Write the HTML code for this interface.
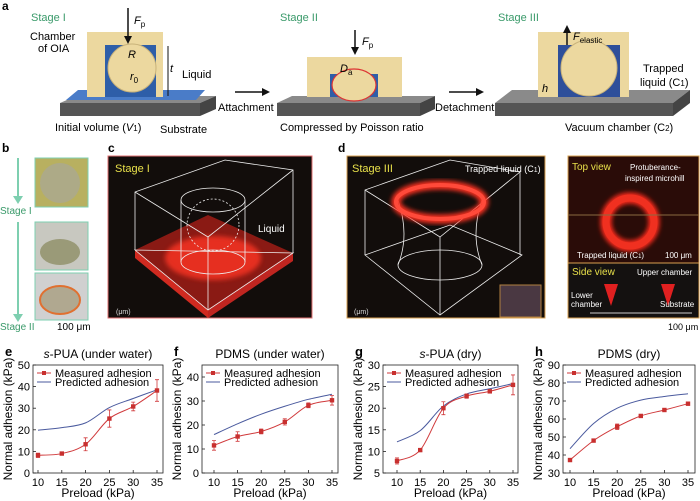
<!DOCTYPE html>
<html><head><meta charset="utf-8"><style>
body{margin:0;background:#fff;}
svg{display:block;font-family:"Liberation Sans",Arial,sans-serif;}
</style></head><body>
<svg id="fig" width="700" height="501" viewBox="0 0 700 501" xmlns="http://www.w3.org/2000/svg">
<defs>
<filter id="glow" x="-20%" y="-20%" width="140%" height="140%"><feGaussianBlur stdDeviation="2.5"/></filter>
</defs>
<g>
<text x="2" y="10" font-size="12" font-weight="bold">a</text>
<text x="31" y="21" font-size="11" fill="#3a9a6a">Stage I</text>
<text x="280" y="21" font-size="11" fill="#3a9a6a">Stage II</text>
<text x="498" y="21" font-size="11" fill="#3a9a6a">Stage III</text>
<g>
<polygon points="60,103 76,96 216,96 200,103" fill="#8a8a8a"/>
<rect x="60" y="103" width="140" height="13" fill="#555"/>
<polygon points="200,103 216,96 216,109 200,116" fill="#444"/>
<polygon points="66,100 78,90 205,90 196,100" fill="#4a7cc8"/>
<rect x="87" y="32" width="76" height="65" fill="#ecd89f"/>
<rect x="105" y="45" width="51" height="52" fill="#2e5ea8"/>
<circle cx="132" cy="68" r="24" fill="#ecd89f" stroke="#c8b27a"/>
<line x1="128" y1="8" x2="128" y2="40" stroke="#111" stroke-width="1.5"/>
<polygon points="124,36 132,36 128,44" fill="#111"/>
<text x="134" y="24" font-size="11" font-style="italic">F<tspan font-size="8" font-style="normal" dy="3">p</tspan></text>
<text x="128" y="58" font-size="11" font-style="italic">R</text>
<text x="130" y="80" font-size="11" font-style="italic">r<tspan font-size="8" font-style="normal" dy="3">0</tspan></text>
<line x1="168" y1="46" x2="168" y2="96" stroke="#111"/>
<text x="170" y="72" font-size="11" font-style="italic">t</text>
<text x="30" y="40" font-size="11">Chamber</text>
<text x="38" y="52" font-size="11">of OIA</text>
<text x="182" y="78" font-size="11">Liquid</text>
<text x="55" y="131" font-size="11">Initial volume (<tspan font-style="italic">V</tspan><tspan font-size="8">1</tspan>)</text>
<text x="160" y="133" font-size="11">Substrate</text>
</g>
<g>
<line x1="235" y1="92" x2="262" y2="92" stroke="#111" stroke-width="1.5"/><polygon points="262,88 270,92 262,96" fill="#111"/>
<text x="218" y="111" font-size="11">Attachment</text>
</g>
<g>
<polygon points="277,103 292,96 435,96 420,103" fill="#8a8a8a"/>
<rect x="277" y="103" width="143" height="13" fill="#555"/>
<polygon points="420,103 435,96 435,109 420,116" fill="#444"/>
<rect x="307" y="57" width="95" height="40" fill="#ecd89f"/>
<rect x="330" y="74" width="48" height="23" fill="#2e5ea8"/>
<ellipse cx="354" cy="85" rx="22" ry="16" fill="#ecd89f" stroke="#d33" stroke-width="1.2"/>
<line x1="355" y1="30" x2="355" y2="50" stroke="#111" stroke-width="1.5"/><polygon points="351,47 359,47 355,55" fill="#111"/>
<text x="362" y="45" font-size="11" font-style="italic">F<tspan font-size="8" font-style="normal" dy="3">p</tspan></text>
<text x="340" y="72" font-size="11" font-style="italic">D<tspan font-size="8" font-style="normal" dy="3">a</tspan></text>
<text x="280" y="131" font-size="11">Compressed by Poisson ratio</text>
</g>
<g>
<line x1="449" y1="92" x2="476" y2="92" stroke="#111" stroke-width="1.5"/><polygon points="476,88 484,92 476,96" fill="#111"/>
<text x="435" y="111" font-size="11">Detachment</text>
</g>
<g>
<polygon points="495,103 512,90 690,90 673,103" fill="#8a8a8a"/>
<rect x="495" y="103" width="178" height="13" fill="#555"/>
<polygon points="673,103 690,90 690,103 673,116" fill="#444"/>
<rect x="538" y="32" width="91" height="65" fill="#ecd89f"/>
<rect x="558" y="45" width="62" height="52" fill="#2e4f9a"/>
<circle cx="589" cy="68" r="28" fill="#ecd89f" stroke="#c8b27a"/>
<line x1="567" y1="45" x2="567" y2="30" stroke="#111" stroke-width="1.5"/><polygon points="563,33 571,33 567,25" fill="#111"/>
<text x="573" y="40" font-size="11" font-style="italic">F<tspan font-size="8" font-style="normal" dy="3">elastic</tspan></text>
<text x="542" y="92" font-size="11" font-style="italic">h</text>
<text x="643" y="72" font-size="11">Trapped</text>
<text x="640" y="86" font-size="11">liquid (C<tspan font-size="8">1</tspan>)</text>
<text x="565" y="131" font-size="11">Vacuum chamber (C<tspan font-size="8">2</tspan>)</text>
</g>
</g>
<g>
<text x="2" y="152" font-size="12" font-weight="bold">b</text>
<line x1="18" y1="158" x2="18" y2="198" stroke="#7ecfb0" stroke-width="2"/><polygon points="13,196 23,196 18,204" fill="#7ecfb0"/>
<text x="0" y="214" font-size="10" fill="#3a9a6a">Stage I</text>
<line x1="18" y1="222" x2="18" y2="316" stroke="#7ecfb0" stroke-width="2"/><polygon points="13,314 23,314 18,322" fill="#7ecfb0"/>
<text x="0" y="330" font-size="10" fill="#3a9a6a">Stage II</text>
<rect x="35" y="158" width="53" height="49" fill="#b8b060" stroke="#7ecfb0"/>
<ellipse cx="60" cy="183" rx="20" ry="20" fill="#a8a898" opacity="0.7"/>
<rect x="35" y="222" width="53" height="48" fill="#c8c8c0" stroke="#7ecfb0"/>
<ellipse cx="60" cy="252" rx="20" ry="13" fill="#9a9a78"/>
<rect x="35" y="273" width="53" height="47" fill="#d0d0d0" stroke="#7ecfb0"/>
<ellipse cx="60" cy="300" rx="20" ry="14" fill="#b0a890" stroke="#e07030" stroke-width="2"/>
<text x="57" y="330" font-size="10">100 μm</text>
</g>
<g>
<text x="108" y="152" font-size="12" font-weight="bold">c</text>
<rect x="108" y="156" width="204" height="162" fill="#120d0b" stroke="#e07070"/>
<text x="115" y="172" font-size="11" fill="#e8e04a">Stage I</text>
<polygon points="135,250 208,215 293,253 208,310" fill="#8a1a14"/>
<polygon points="135,250 208,310 208,318 135,258" fill="#d02a20"/>
<polygon points="208,310 293,253 293,261 208,318" fill="#c02520"/>
<ellipse cx="213" cy="258" rx="48" ry="22" fill="#f03020" filter="url(#glow)" opacity="0.9"/>
<g fill="none" stroke="#eee" stroke-width="0.8">
<polyline points="135,250 135,192 225,160 293,170 293,253"/>
<polyline points="135,192 208,237 293,170"/><line x1="208" y1="237" x2="208" y2="310"/>
<polygon points="135,250 208,310 293,253"/>
<ellipse cx="213" cy="200" rx="32" ry="12"/><line x1="181" y1="200" x2="181" y2="262"/><line x1="245" y1="200" x2="245" y2="262"/>
<ellipse cx="213" cy="262" rx="32" ry="12"/>
<circle cx="213" cy="225" r="26" stroke-dasharray="2,2"/>
</g>
<text x="258" y="232" font-size="10" fill="#fff">Liquid</text>
<text x="116" y="314" font-size="7" fill="#ddd">(μm)</text>
</g>
<g>
<text x="338" y="152" font-size="12" font-weight="bold">d</text>
<rect x="347" y="156" width="198" height="162" fill="#120d0b" stroke="#d8a050"/>
<text x="352" y="172" font-size="11" fill="#e8e04a">Stage III</text>
<g fill="none" stroke="#eee" stroke-width="0.8">
<polyline points="365,255 365,190 450,160 520,172 520,255"/>
<polyline points="365,190 440,237 520,172"/><line x1="440" y1="237" x2="440" y2="315"/>
<polygon points="365,255 440,315 522,255 450,225"/>
<path d="M398,200 Q410,235 398,265 M482,200 Q470,235 482,265"/>
<ellipse cx="440" cy="265" rx="42" ry="15"/>
</g>
<ellipse cx="440" cy="202" rx="44" ry="17" fill="none" stroke="#ff3020" stroke-width="9" filter="url(#glow)"/>
<ellipse cx="440" cy="202" rx="44" ry="17" fill="none" stroke="#ff4a3a" stroke-width="4"/>
<text x="465" y="172" font-size="9" fill="#fff">Trapped liquid (C<tspan font-size="7">1</tspan>)</text>
<rect x="500" y="285" width="41" height="32" fill="#4a3842" stroke="#b08040"/>
<text x="354" y="314" font-size="7" fill="#ddd">(μm)</text>
</g>
<g>
<rect x="568" y="156" width="131" height="107" fill="#2a0c08" stroke="#d8a050"/>
<circle cx="630" cy="222" r="24" fill="none" stroke="#ff2a1a" stroke-width="11" filter="url(#glow)"/>
<circle cx="630" cy="222" r="24" fill="none" stroke="#f03020" stroke-width="7"/>
<line x1="568" y1="215" x2="699" y2="215" stroke="#8a6a40"/>
<text x="572" y="170" font-size="10" fill="#e8e04a">Top view</text>
<text x="630" y="170" font-size="8" fill="#fff">Protuberance-</text>
<text x="625" y="181" font-size="8" fill="#fff">inspired microhill</text>
<text x="577" y="258" font-size="8" fill="#fff">Trapped liquid (C<tspan font-size="6">1</tspan>)</text>
<text x="665" y="258" font-size="8" fill="#fff">100 μm</text>
<rect x="568" y="263" width="131" height="55" fill="#141110" stroke="#d8a050"/>
<text x="572" y="275" font-size="10" fill="#e8e04a">Side view</text>
<text x="637" y="275" font-size="8" fill="#fff">Upper chamber</text>
<polygon points="604,284 618,284 611,306" fill="#e02020"/>
<polygon points="661,284 675,284 668,306" fill="#e02020"/>
<text x="571" y="298" font-size="8" fill="#fff">Lower</text>
<text x="571" y="307" font-size="8" fill="#fff">chamber</text>
<text x="660" y="307" font-size="8" fill="#fff">Substrate</text>
<line x1="590" y1="313" x2="692" y2="313" stroke="#ccc"/>
<text x="668" y="330" font-size="9">100 μm</text>
</g>
<g id="charts"></g>
</svg>
<script>
const preload = [10, 15, 20, 25, 30, 35];
const eMeasured = [8.2, 9.0, 13.3, 25.2, 30.8, 38.2];
const eError = [1.0, 0.6, 3.0, 4.0, 2.0, 5.0];
const ePredicted = [19.8, 21.0, 23.2, 30.3, 34.5, 38.5];
const fMeasured = [11.5, 15.2, 17.3, 21.3, 28.2, 30.3];
const fError = [2.0, 2.0, 1.0, 1.3, 1.0, 2.0];
const fPredicted = [16.0, 20.5, 24.5, 27.8, 30.7, 32.8];
const gMeasured = [7.8, 10.3, 20.0, 22.8, 23.9, 25.4];
const gError = [0.7, 0.3, 1.5, 0.5, 0.4, 2.3];
const gPredicted = [12.2, 14.8, 20.5, 23.3, 24.5, 25.7];
const hMeasured = [37.2, 48.0, 55.7, 61.7, 65.0, 68.5];
const hError = [0.8, 0.5, 1.5, 0.5, 0.5, 0.8];
const hPredicted = [43.5, 57.5, 66.0, 70.5, 72.5, 74.0];
const eTicks = [0, 10, 20, 30, 40, 50];
const fTicks = [0, 10, 20, 30, 40];
const gTicks = [5, 10, 15, 20, 25, 30];
const hTicks = [30, 40, 50, 60, 70, 80, 90];
const xTicks = [10, 15, 20, 25, 30, 35];

const NS = 'http://www.w3.org/2000/svg';
const root = document.getElementById('charts');
function mk(tag, attrs, parent, text) {
  const el = document.createElementNS(NS, tag);
  for (const k in attrs) el.setAttribute(k, attrs[k]);
  if (text !== undefined) el.textContent = text;
  parent.appendChild(el);
  return el;
}
function smooth(pts) {
  let d = 'M' + pts[0][0] + ',' + pts[0][1];
  for (let i = 0; i < pts.length - 1; i++) {
    const p0 = pts[Math.max(i - 1, 0)], p1 = pts[i], p2 = pts[i + 1], p3 = pts[Math.min(i + 2, pts.length - 1)];
    const c1 = [p1[0] + (p2[0] - p0[0]) / 6, p1[1] + (p2[1] - p0[1]) / 6];
    const c2 = [p2[0] - (p3[0] - p1[0]) / 6, p2[1] - (p3[1] - p1[1]) / 6];
    d += ' C' + c1[0] + ',' + c1[1] + ' ' + c2[0] + ',' + c2[1] + ' ' + p2[0] + ',' + p2[1];
  }
  return d;
}
function chart(cfg) {
  const g = mk('g', {}, root);
  
  
  const top = 365, bot = 473;
  const xs = v => cfg.x10 + (v - 10) * (cfg.x35 - cfg.x10) / 25;
  const ys = v => bot - (v - cfg.ymin) * (bot - top) / (cfg.ymax - cfg.ymin);
  const lab = mk('text', {x: cfg.left - 28, y: 356, 'font-size': 13, 'font-weight': 'bold'}, g, cfg.id);
  
  
  const t = mk('text', {x: (cfg.left + cfg.right) / 2, y: 358, 'font-size': 12, 'text-anchor': 'middle'}, g);
  
  
  if (cfg.italicPrefix) { mk('tspan', {'font-style': 'italic'}, t, cfg.italicPrefix); }
  mk('tspan', {}, t, cfg.title);
  const frame = mk('rect', {x: cfg.left, y: cfg.ftop, width: cfg.right - cfg.left, height: bot - cfg.ftop, fill: 'none', stroke: '#222', 'stroke-width': 0.8}, g);
  
  
  cfg.yTicks.forEach(v => {
    mk('line', {x1: cfg.left, x2: cfg.left + 3, y1: ys(v), y2: ys(v), stroke: '#222', 'stroke-width': 0.8}, g);
    const tl = mk('text', {x: cfg.left - 3, y: ys(v) + 4, 'font-size': 11, 'text-anchor': 'end'}, g, v);
    
    
  });
  xTicks.forEach(v => {
    mk('line', {x1: xs(v), x2: xs(v), y1: bot, y2: bot - 3, stroke: '#222', 'stroke-width': 0.8}, g);
    const tl = mk('text', {x: xs(v), y: bot + 13, 'font-size': 11, 'text-anchor': 'middle'}, g, v);
    
    
  });
  const xl = mk('text', {x: (cfg.left + cfg.right) / 2, y: 497, 'font-size': 12, 'text-anchor': 'middle'}, g, 'Preload (kPa)');
  
  
  const yl = mk('text', {x: 0, y: 0, 'font-size': 12, 'text-anchor': 'middle', transform: 'translate(' + (cfg.left - 21) + ',' + ((top + bot) / 2) + ') rotate(-90)'}, g, 'Normal adhesion (kPa)');
  
  
  const pp = preload.map((p, i) => [xs(p), ys(cfg.pred[i])]);
  const pl = mk('path', {d: smooth(pp), fill: 'none', stroke: '#4a5a9e', 'stroke-width': 1}, g);
  
  
  const mp = preload.map((p, i) => [xs(p), ys(cfg.meas[i])]);
  const ml = mk('path', {d: smooth(mp), fill: 'none', stroke: '#d0393b', 'stroke-width': 1}, g);
  
  
  preload.forEach((p, i) => {
    const x = xs(p), y1 = ys(cfg.meas[i] + cfg.err[i]), y2 = ys(cfg.meas[i] - cfg.err[i]);
    const eb = mk('path', {d: 'M' + x + ',' + y1 + 'V' + y2 + 'M' + (x - 2) + ',' + y1 + 'H' + (x + 2) + 'M' + (x - 2) + ',' + y2 + 'H' + (x + 2), stroke: '#d0393b', 'stroke-width': 0.8, fill: 'none'}, g);
    
    
    const m = mk('rect', {x: x - 2.2, y: ys(cfg.meas[i]) - 2.2, width: 4.4, height: 4.4, fill: '#c8302f'}, g);
    
    
  });
  const lx = cfg.left + 4;
  const le1 = mk('g', {}, g);
  
  
  mk('line', {x1: lx, x2: lx + 14, y1: 373, y2: 373, stroke: '#d0393b'}, le1);
  mk('rect', {x: lx + 5, y: 371, width: 4, height: 4, fill: '#c8302f'}, le1);
  mk('text', {x: lx + 18, y: 377, 'font-size': 11}, le1, 'Measured adhesion');
  const le2 = mk('g', {}, g);
  
  
  mk('line', {x1: lx, x2: lx + 14, y1: 382, y2: 382, stroke: '#4a5a9e'}, le2);
  mk('text', {x: lx + 18, y: 386, 'font-size': 11}, le2, 'Predicted adhesion');
}
chart({id: 'e', italicPrefix: 's', title: '-PUA (under water)', left: 33, right: 163, ftop: 365, x10: 38, x35: 157, ymin: 0, ymax: 50, yTicks: eTicks, meas: eMeasured, err: eError, pred: ePredicted});
chart({id: 'f', title: 'PDMS (under water)', left: 202, right: 338, ftop: 365, x10: 214, x35: 332, ymin: 0, ymax: 45, yTicks: fTicks, meas: fMeasured, err: fError, pred: fPredicted});
chart({id: 'g', italicPrefix: 's', title: '-PUA (dry)', left: 383, right: 518, ftop: 365, x10: 397, x35: 513, ymin: 5, ymax: 30, yTicks: gTicks, meas: gMeasured, err: gError, pred: gPredicted});
chart({id: 'h', title: 'PDMS (dry)', left: 563, right: 695, ftop: 365, x10: 570, x35: 688, ymin: 30, ymax: 90, yTicks: hTicks, meas: hMeasured, err: hError, pred: hPredicted});
</script>
</body></html>
